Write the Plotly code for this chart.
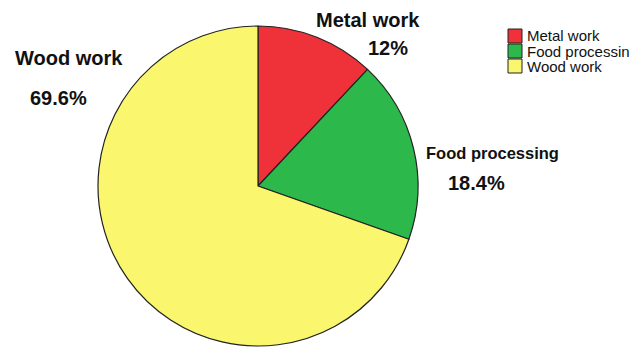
import plotly.graph_objects as go

categories = ["Metal work", "Food processing", "Wood work"]
values = [12.0, 18.4, 69.6]
colors = ["#EF323A", "#2DB84B", "#FAF66E"]

W, H = 629, 348

def px(x):
    return x / W

def py(y):
    return 1 - y / H

fig = go.Figure()
fig.add_trace(go.Pie(
    labels=categories,
    values=values,
    sort=False,
    direction="clockwise",
    rotation=0,
    textinfo="none",
    hoverinfo="label+percent",
    marker=dict(colors=colors, line=dict(color="#222222", width=1.2)),
    showlegend=False,
    domain=dict(x=[px(98), px(418)], y=[py(346), py(26)]),
))

# slice labels
label_pos = [
    (368, 20, 388, 48, 20),
    (492, 153, 476, 183, 16.5),
    (69, 58, 58, 98, 20),
]
for cat, val, (lx, ly, vx, vy, fs) in zip(categories, values, label_pos):
    fig.add_annotation(x=px(lx), y=py(ly), xref="paper", yref="paper",
                       text=f"<b>{cat}</b>", showarrow=False,
                       font=dict(family="Arial, Liberation Sans", size=fs, color="#111"),
                       xanchor="center", yanchor="middle")
    vtxt = f"{val:g}%"
    fig.add_annotation(x=px(vx), y=py(vy), xref="paper", yref="paper",
                       text=f"<b>{vtxt}</b>", showarrow=False,
                       font=dict(family="Arial, Liberation Sans", size=20, color="#111"),
                       xanchor="center", yanchor="middle")

# legend
for i, (cat, col) in enumerate(zip(categories, colors)):
    top = 29 + i * 15
    fig.add_shape(type="rect", xref="paper", yref="paper",
                  x0=px(508), x1=px(522), y0=py(top), y1=py(top + 14),
                  fillcolor=col, line=dict(color="#222", width=1))
    fig.add_annotation(x=px(525), y=py(top + 7), xref="paper", yref="paper",
                       text=cat, showarrow=False, xanchor="left", yanchor="middle",
                       font=dict(family="Arial, Liberation Sans", size=15, color="#111"))

fig.update_layout(
    width=W, height=H,
    margin=dict(l=0, r=0, t=0, b=0),
    paper_bgcolor="white", plot_bgcolor="white",
)
fig.write_html("out.html")
